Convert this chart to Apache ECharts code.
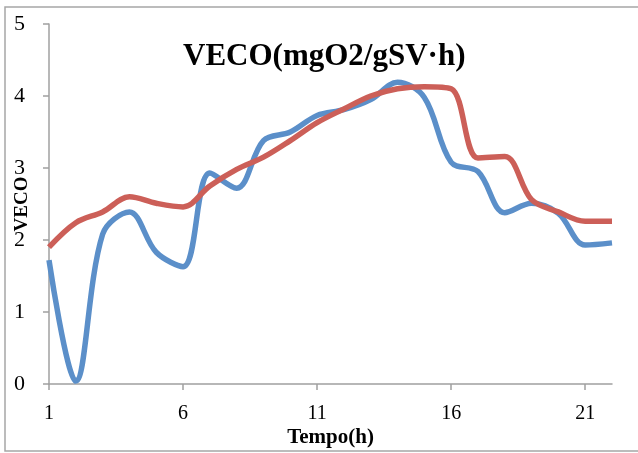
<!DOCTYPE html>
<html>
<head>
<meta charset="utf-8">
<script src="https://cdn.jsdelivr.net/npm/echarts@6/dist/echarts.min.js"></script>
<style>
html,body{margin:0;padding:0;background:#fff;}
#c{width:638px;height:453px;}
</style>
</head>
<body>
<div id="c"></div>
<script>
const categories = ['1','2','3','4','5','6','7','8','9','10','11','12','13','14','15','16','17','18','19','20','21','22'];
const blueValues = [1.72,0.04,2.08,2.39,1.83,1.63,2.93,2.72,3.38,3.5,3.73,3.81,3.95,4.19,3.98,3.08,2.95,2.38,2.51,2.37,1.93,1.96];
const redValues  = [1.9,2.24,2.39,2.6,2.51,2.46,2.75,2.98,3.15,3.38,3.63,3.82,4.0,4.1,4.13,4.1,3.14,3.16,2.56,2.39,2.26,2.26];
const titleText = 'VECO(mgO2/gSV·h)';
const xName = 'Tempo(h)';
const yName = 'VECO';

const serif = '"Liberation Serif", "DejaVu Serif", serif';
const chart = echarts.init(document.getElementById('c'), null, {renderer:'canvas'});
chart.setOption({
  animation: false,
  backgroundColor: '#fff',
  graphic: [{
    type: 'rect',
    shape: {x: 5, y: 7, width: 645, height: 444},
    style: {fill: 'none', stroke: '#a6a6a6', lineWidth: 1.5},
    silent: true
  }],
  title: {
    text: titleText,
    left: 178,
    top: 36,
    textStyle: {fontFamily: serif, fontWeight: 'bold', fontSize: 31, color: '#000'}
  },
  grid: {left: 49, top: 24, width: 563, height: 360, containLabel: false, outerBoundsMode: 'none'},
  xAxis: {
    type: 'category',
    data: categories,
    boundaryGap: false,
    name: xName,
    nameLocation: 'middle',
    nameGap: 43,
    nameMoveOverlap: false,
    nameTextStyle: {fontFamily: serif, fontWeight: 'bold', fontSize: 21, color: '#000'},
    axisLine: {lineStyle: {color: '#a0a0a0', width: 1.5}},
    axisTick: {interval: 4, length: 6, lineStyle: {color: '#a0a0a0', width: 1.5}},
    axisLabel: {interval: 4, margin: 20, fontFamily: serif, fontSize: 20, color: '#000'},
    splitLine: {show: false}
  },
  yAxis: {
    type: 'value',
    min: 0, max: 5, interval: 1,
    name: yName,
    nameLocation: 'middle',
    nameGap: 17,
    nameRotate: 90,
    nameMoveOverlap: false,
    nameTextStyle: {fontFamily: serif, fontWeight: 'bold', fontSize: 19, color: '#000'},
    axisLine: {show: true, lineStyle: {color: '#a0a0a0', width: 1.5}},
    axisTick: {show: true, length: 6, lineStyle: {color: '#a0a0a0', width: 1.5}},
    axisLabel: {margin: 24, fontFamily: serif, fontSize: 22, color: '#000', padding: [10,0,0,0]},
    splitLine: {show: false}
  },
  series: [
    {type: 'line', data: blueValues, smooth: 0.35, symbol: 'none',
     lineStyle: {color: '#5b8fc9', width: 5.5}, itemStyle: {color: '#5b8fc9'}},
    {type: 'line', data: redValues, smooth: 0.35, symbol: 'none',
     lineStyle: {color: '#cc5f58', width: 5.5}, itemStyle: {color: '#cc5f58'}}
  ]
});
</script>
</body>
</html>
